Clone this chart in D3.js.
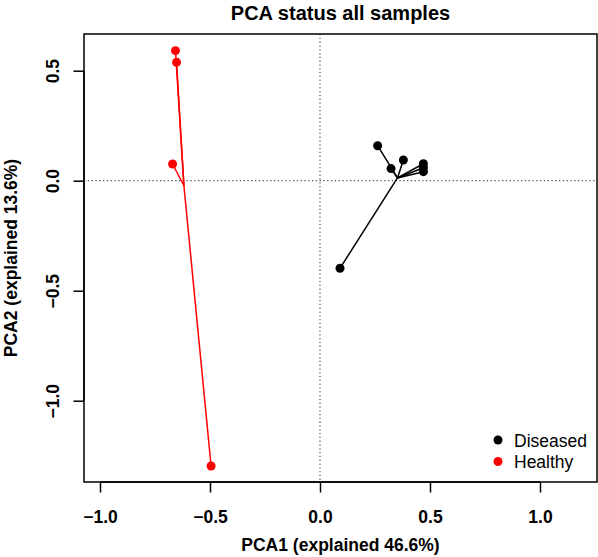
<!DOCTYPE html>
<html><head><meta charset="utf-8">
<script src="https://cdn.jsdelivr.net/npm/d3@7"></script>
<style>body{margin:0;background:#fff}</style>
</head><body>
<svg id="chart" width="598" height="557"></svg>
<script>
const groups = ["Diseased", "Healthy"];
const groupColors = ["#000000", "#FF0000"];
const diseasedPC1 = [0.262, 0.323, 0.379, 0.470, 0.470, 0.470, 0.091];
const diseasedPC2 = [0.159, 0.055, 0.094, 0.077, 0.059, 0.041, -0.398];
const healthyPC1 = [-0.657, -0.652, -0.670, -0.495];
const healthyPC2 = [0.591, 0.538, 0.076, -1.297];
const xTicks = [-1.0, -0.5, 0.0, 0.5, 1.0];
const yTicks = [-1.0, -0.5, 0.0, 0.5];
const titleText = "PCA status all samples";
const xLabel = "PCA1 (explained 46.6%)";
const yLabel = "PCA2 (explained 13.6%)";

const svg = d3.select("#chart");
const FONT = "'Liberation Sans', Arial, Helvetica, sans-serif";
const box = {left: 84, right: 597, top: 34, bottom: 482};
const x = d3.scaleLinear().domain([-1.0727, 1.2591]).range([box.left, box.right]);
const y = d3.scaleLinear().domain([-1.3695, 0.6668]).range([box.bottom, box.top]);

const series = [
  {name: groups[0], color: groupColors[0], pts: diseasedPC1.map((v, i) => [v, diseasedPC2[i]])},
  {name: groups[1], color: groupColors[1], pts: healthyPC1.map((v, i) => [v, healthyPC2[i]])}
];

// reference dotted lines
svg.append("line").attr("x1", x(0)).attr("x2", x(0)).attr("y1", box.top).attr("y2", box.bottom)
  .attr("stroke", "#555").attr("stroke-width", 1.2).attr("stroke-dasharray", "1.3,2.5");
svg.append("line").attr("x1", box.left).attr("x2", box.right).attr("y1", y(0)).attr("y2", y(0))
  .attr("stroke", "#555").attr("stroke-width", 1.2).attr("stroke-dasharray", "1.3,2.5");

// spider lines and points
series.forEach(s => {
  const cx = d3.mean(s.pts, d => d[0]);
  const cy = d3.mean(s.pts, d => d[1]);
  const g = svg.append("g");
  g.selectAll("line").data(s.pts).join("line")
    .attr("x1", x(cx)).attr("y1", y(cy))
    .attr("x2", d => x(d[0])).attr("y2", d => y(d[1]))
    .attr("stroke", s.color).attr("stroke-width", 1.5);
  g.selectAll("circle").data(s.pts).join("circle")
    .attr("cx", d => x(d[0])).attr("cy", d => y(d[1])).attr("r", 4.5)
    .attr("fill", s.color);
});

// box
svg.append("rect").attr("x", box.left).attr("y", box.top)
  .attr("width", box.right - box.left).attr("height", box.bottom - box.top)
  .attr("fill", "none").attr("stroke", "#000").attr("stroke-width", 1.5);

const fmt = v => (v < 0 ? "\u2212" : "") + Math.abs(v).toFixed(1);

// x axis
const xAxis = d3.axisBottom(x).tickValues(xTicks).tickSize(10.5).tickPadding(4).tickFormat(fmt);
const gx = svg.append("g").attr("transform", `translate(0,${box.bottom})`).call(xAxis);
gx.select(".domain").attr("d", `M${x(xTicks[0])},0H${x(xTicks[xTicks.length-1])}`).attr("stroke-width", 1.5);
gx.selectAll(".tick line").attr("stroke-width", 1.5);
gx.selectAll(".tick text").attr("font-family", FONT).attr("font-size", 17.5).attr("font-weight", "bold")
  .attr("fill", "#000").attr("dy", null).attr("y", 41);

// y axis
const yAxis = d3.axisLeft(y).tickValues(yTicks).tickSize(10.5).tickFormat(fmt);
const gy = svg.append("g").attr("transform", `translate(${box.left},0)`).call(yAxis);
gy.select(".domain").attr("d", `M0,${y(yTicks[0])}V${y(yTicks[yTicks.length-1])}`).attr("stroke-width", 1.5);
gy.selectAll(".tick line").attr("stroke-width", 1.5);
gy.selectAll(".tick text").attr("font-family", FONT).attr("font-size", 17.5).attr("font-weight", "bold")
  .attr("fill", "#000").attr("x", null).attr("dy", null).attr("text-anchor", "middle")
  .attr("transform", "translate(-25,0) rotate(-90)");

// titles
svg.append("text").attr("x", (box.left + box.right) / 2).attr("y", 20)
  .attr("text-anchor", "middle").attr("font-family", FONT).attr("font-size", 20).attr("font-weight", "bold")
  .text(titleText);
svg.append("text").attr("x", (box.left + box.right) / 2).attr("y", 551)
  .attr("text-anchor", "middle").attr("font-family", FONT).attr("font-size", 17.5).attr("font-weight", "bold")
  .text(xLabel);
svg.append("text").attr("transform", `translate(17,${(box.top + box.bottom) / 2}) rotate(-90)`)
  .attr("text-anchor", "middle").attr("font-family", FONT).attr("font-size", 17.5).attr("font-weight", "bold")
  .text(yLabel);

// legend
const lg = svg.append("g");
series.forEach((s, i) => {
  const ly = 440 + i * 21.5;
  lg.append("circle").attr("cx", 498).attr("cy", ly).attr("r", 4.5).attr("fill", s.color);
  lg.append("text").attr("x", 514).attr("y", ly + 6.5).attr("font-family", FONT).attr("font-size", 17.5)
    .attr("fill", "#000").text(s.name);
});
</script>
</body></html>
